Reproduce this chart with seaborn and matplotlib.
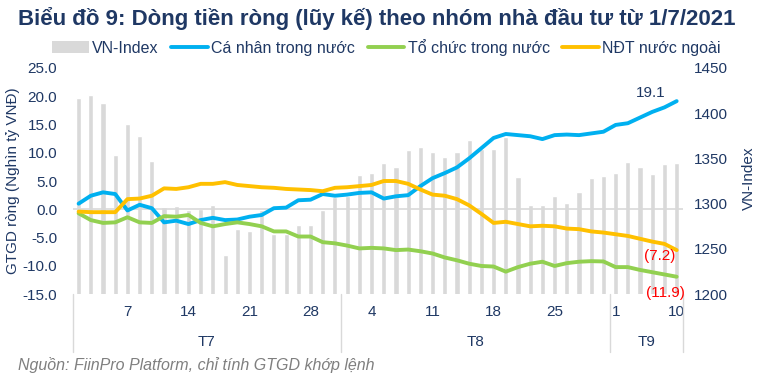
import numpy as np
import matplotlib
matplotlib.use("Agg")
import matplotlib.pyplot as plt
import matplotlib.transforms as mtransforms
from matplotlib.lines import Line2D
from matplotlib.patches import Patch
import seaborn as sns

# 50 phien giao dich tu 1/7/2021 den 10/9/2021
day_idx = np.arange(50)

vn_index = [1417, 1420, 1411, 1354, 1388, 1375, 1347, 1296, 1297, 1293,
            1294, 1299, 1243, 1272, 1270, 1293, 1267, 1267, 1276, 1276,
            1293, 1307, 1308, 1332, 1334, 1345, 1341, 1359, 1362, 1357,
            1352, 1357, 1370, 1360, 1360, 1374, 1329, 1298, 1298, 1309,
            1301, 1313, 1328, 1331, 1334, 1346, 1341, 1333, 1344, 1345]

ca_nhan = [1.0, 2.4, 3.0, 2.7, -0.2, 0.8, 0.2, -2.3, -2.0, -2.6,
           -1.9, -1.5, -1.9, -1.8, -1.3, -1.0, 0.2, 0.3, 1.6, 1.7,
           2.7, 2.4, 2.6, 2.9, 3.0, 1.9, 2.3, 2.5, 4.1, 5.5,
           6.4, 7.4, 9.0, 10.8, 12.6, 13.3, 13.1, 12.9, 12.4, 13.1,
           13.2, 13.1, 13.4, 13.7, 14.9, 15.2, 16.2, 17.2, 18.0, 19.1]

to_chuc = [-0.7, -1.9, -2.4, -2.3, -1.4, -2.3, -2.4, -1.2, -1.3, -1.0,
           -2.4, -3.0, -2.6, -2.3, -2.6, -3.0, -3.9, -3.9, -4.8, -4.8,
           -5.8, -6.0, -6.4, -6.9, -6.8, -6.9, -7.2, -7.1, -7.4, -7.8,
           -8.5, -9.0, -9.6, -10.0, -10.1, -11.0, -10.2, -9.6, -9.25, -10.0,
           -9.5, -9.25, -9.15, -9.2, -10.2, -10.2, -10.7, -11.1, -11.5, -11.9]

ndt_nn = [-0.4, -0.5, -0.5, -0.5, 1.8, 1.9, 2.4, 3.7, 3.6, 3.9,
          4.5, 4.5, 4.8, 4.3, 4.1, 3.9, 3.8, 3.6, 3.5, 3.4,
          3.2, 3.8, 3.9, 4.1, 4.3, 5.0, 5.0, 4.5, 3.5, 2.6,
          2.4, 1.8, 0.7, -0.8, -2.4, -2.2, -2.6, -3.0, -2.9, -3.0,
          -3.4, -3.5, -3.9, -4.1, -4.4, -4.7, -5.2, -5.7, -6.1, -7.2]

tick_pos = [4, 9, 14, 19, 24, 29, 34, 39, 44, 49]
tick_labels = ["7", "14", "21", "28", "4", "11", "18", "25", "1", "10"]
months = ["T7", "T8", "T9"]
month_sizes = [22, 22, 6]

sns.set_theme(style="white")
plt.rcParams['font.family'] = ['Liberation Sans', 'DejaVu Sans']

navy = "#1F3864"
grey = "#D9D9D9"
c_blue = "#00B0F0"
c_green = "#92D050"
c_orange = "#FFC000"

fig = plt.figure(figsize=(7.65, 3.83), dpi=100)
ax = fig.add_axes([0.0948, 0.2316, 0.7977, 0.5916])
ax2 = ax.twinx()

# cot VN-Index (truc phai)
sns.barplot(x=day_idx, y=vn_index, ax=ax2, color=grey, saturation=1, width=0.42)
ax2.set_ylim(1200, 1450)
ax2.set_yticks(np.arange(1200, 1451, 50))
ax2.set_ylabel("")

# duong luy ke (truc trai)
ax.axhline(0, color=grey, lw=1.2, zorder=0)
sns.lineplot(x=day_idx, y=ca_nhan, ax=ax, color=c_blue, linewidth=2.8)
sns.lineplot(x=day_idx, y=to_chuc, ax=ax, color=c_green, linewidth=2.8)
sns.lineplot(x=day_idx, y=ndt_nn, ax=ax, color=c_orange, linewidth=2.8)
ax.set_zorder(ax2.get_zorder() + 1)
ax.patch.set_visible(False)

ax.set_ylim(-15, 25)
ax.set_yticks(np.arange(-15, 26, 5))
ax.set_yticklabels([f"{v:.1f}" for v in np.arange(-15, 26, 5)])
ax.set_xlim(-0.5, 49.5)
ax.set_xticks(tick_pos)
ax.set_xticklabels(tick_labels)
ax.set_xlabel("")
ax.set_ylabel("")

for a in (ax, ax2):
    for s in a.spines.values():
        s.set_visible(False)
ax.tick_params(axis="y", length=0, labelsize=11, colors=navy, pad=11)
ax.tick_params(axis="x", length=0, labelsize=11, colors=navy, pad=8)
ax2.tick_params(axis="y", length=0, labelsize=11, colors=navy, pad=8)

# nhom thang duoi truc x
trans = mtransforms.blended_transform_factory(ax.transData, ax.transAxes)
start = -0.5
for m, n in zip(months, month_sizes):
    end = start + n
    ax.text((start + end) / 2, -0.21, m, transform=trans, ha="center", va="center",
            fontsize=11, color=navy)
    start = end
edges = np.cumsum([0] + month_sizes) - 0.5
for e in edges:
    ax.plot([e, e], [0, -0.255], transform=trans, color=grey, lw=1, clip_on=False)

# nhan gia tri cuoi
ax.annotate("19.1", xy=(49, ca_nhan[-1]), xytext=(-26, 8), textcoords="offset pixels",
            ha="center", va="center", fontsize=11, color=navy)
ax.annotate("(7.2)", xy=(49, ndt_nn[-1]), xytext=(-17, -6), textcoords="offset pixels",
            ha="center", va="center", fontsize=11, color="#FF0000")
ax.annotate("(11.9)", xy=(49, to_chuc[-1]), xytext=(-11, -16), textcoords="offset pixels",
            ha="center", va="center", fontsize=11, color="#FF0000")

fig.text(13 / 765, 0.527, "GTGD ròng (Nghìn tỷ VNĐ)", rotation=90, ha="center",
         va="center", fontsize=11, color=navy)
fig.text(749 / 765, 0.535, "VN-Index", rotation=90, ha="center", va="center",
         fontsize=11, color=navy)

handles = [Patch(facecolor=grey, edgecolor="none"),
           Line2D([], [], color=c_blue, lw=2.8),
           Line2D([], [], color=c_green, lw=2.8),
           Line2D([], [], color=c_orange, lw=2.8)]
labels = ["VN-Index", "Cá nhân trong nước", "Tổ chức trong nước", "NĐT nước ngoài"]
fig.legend(handles, labels, loc="center", bbox_to_anchor=(0.505, 0.877), ncol=4,
           frameon=False, fontsize=11.5, handlelength=2.3, handletextpad=0.2,
           columnspacing=0.8, labelcolor=navy)

fig.text(18 / 765, 0.953, "Biểu đồ 9: Dòng tiền ròng (lũy kế) theo nhóm nhà đầu tư từ 1/7/2021",
         ha="left", va="center", fontsize=16, fontweight="bold", color=navy)
fig.text(18 / 765, 0.047, "Nguồn: FiinPro Platform, chỉ tính GTGD khớp lệnh",
         ha="left", va="center", fontsize=11.5, style="italic", color="#7F7F7F")

fig.savefig("out.png", dpi=100)
